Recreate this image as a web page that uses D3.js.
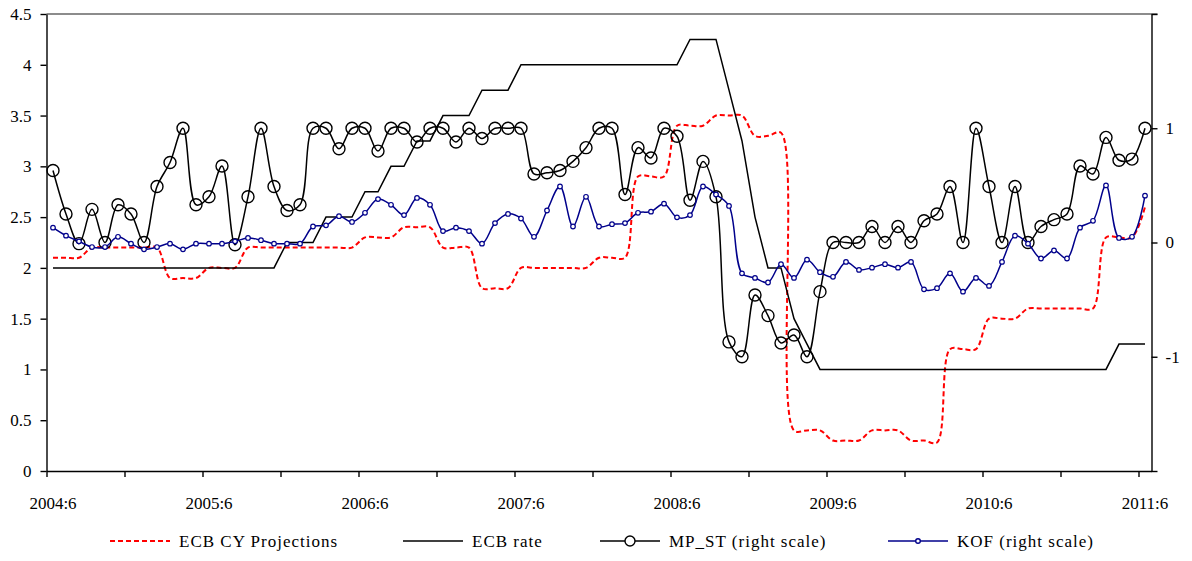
<!DOCTYPE html>
<html>
<head>
<meta charset="utf-8">
<script src="https://cdn.jsdelivr.net/npm/d3@7"></script>
<style>
  body { margin: 0; background: #fff; }
  text { font-family: "Liberation Serif", serif; font-size: 17px; fill: #000; }
</style>
</head>
<body>
<script>
// months 2004:6 .. 2011:6
let months = [];
for (let y = 2004, m = 6; y < 2011 || (y === 2011 && m <= 6); ) {
  months.push(y + ":" + m);
  m += 1;
  if (m > 12) { m = 1; y += 1; }
}

let yearLabels = ["2004:6", "2005:6", "2006:6", "2007:6", "2008:6", "2009:6", "2010:6", "2011:6"];
let leftTicks = [0, 0.5, 1, 1.5, 2, 2.5, 3, 3.5, 4, 4.5];
let rightTicks = [-2, -1, 0, 1, 2];

// left scale
let ecbRate = [
  2, 2, 2, 2, 2, 2, 2, 2, 2, 2, 2, 2, 2, 2, 2, 2, 2, 2,
  2.25, 2.25, 2.25, 2.5, 2.5, 2.5, 2.75, 2.75, 3, 3, 3.25, 3.25,
  3.5, 3.5, 3.5, 3.75, 3.75, 3.75,
  4, 4, 4, 4, 4, 4, 4, 4, 4, 4, 4, 4, 4,
  4.25, 4.25, 4.25, 3.75, 3.25, 2.5, 2, 2, 1.5, 1.25,
  1, 1, 1, 1, 1, 1, 1, 1, 1, 1, 1, 1, 1, 1, 1, 1, 1, 1, 1, 1, 1, 1, 1,
  1.25, 1.25, 1.25
];
let ecbProj = [
  2.1, 2.1, 2.1, 2.2, 2.2, 2.2, 2.2, 2.2, 2.2, 1.9, 1.9, 1.9,
  2.0, 2.0, 2.0, 2.2, 2.2, 2.2, 2.2, 2.2, 2.2, 2.2, 2.2, 2.2,
  2.3, 2.3, 2.3, 2.4, 2.4, 2.4, 2.2, 2.2, 2.2, 1.8, 1.8, 1.8,
  2.0, 2.0, 2.0, 2.0, 2.0, 2.0, 2.1, 2.1, 2.1, 2.9, 2.9, 2.9,
  3.4, 3.4, 3.4, 3.5, 3.5, 3.5, 3.3, 3.3, 3.33, 0.4, 0.4, 0.4,
  0.3, 0.3, 0.3, 0.4, 0.4, 0.4, 0.3, 0.3, 0.28, 1.2, 1.2, 1.2,
  1.5, 1.5, 1.5, 1.6, 1.6, 1.6, 1.6, 1.6, 1.6, 2.3, 2.3, 2.3, 2.6
];

// right scale
let mpST = [
  0.63, 0.25, -0.01, 0.29, 0.0, 0.33, 0.25, 0.0, 0.49, 0.70,
  1.0, 0.33, 0.40, 0.67, -0.02, 0.40, 1.0, 0.49, 0.28, 0.33,
  1.0, 1.0, 0.82, 1.0, 1.0, 0.80, 1.0, 1.0, 0.88, 1.0,
  1.0, 0.88, 1.0, 0.91, 1.0, 1.0, 1.0, 0.60, 0.61, 0.63,
  0.71, 0.83, 1.0, 1.0, 0.42, 0.83, 0.74, 1.0, 0.93, 0.37,
  0.71, 0.40, -0.87, -1.0, -0.46, -0.64, -0.88, -0.81, -1.0, -0.43,
  0.0, 0.0, 0.0, 0.14, 0.0, 0.14, 0.0, 0.19, 0.25, 0.49,
  0.0, 1.0, 0.49, 0.0, 0.49, 0.0, 0.14, 0.20, 0.25, 0.67,
  0.60, 0.92, 0.72, 0.73, 1.0
];
let kof = [
  0.13, 0.06, 0.01, -0.04, -0.04, 0.05, -0.01, -0.06, -0.04, -0.01,
  -0.06, -0.01, -0.01, -0.01, 0.01, 0.04, 0.02, -0.01, -0.01, -0.01,
  0.14, 0.15, 0.23, 0.18, 0.26, 0.38, 0.33, 0.24, 0.39, 0.33,
  0.10, 0.13, 0.10, -0.01, 0.17, 0.25, 0.21, 0.05, 0.28, 0.49,
  0.14, 0.40, 0.14, 0.16, 0.17, 0.26, 0.27, 0.34, 0.22, 0.24,
  0.49, 0.42, 0.32, -0.27, -0.31, -0.35, -0.19, -0.31, -0.15, -0.26,
  -0.30, -0.17, -0.24, -0.22, -0.19, -0.22, -0.17, -0.41, -0.40, -0.27,
  -0.43, -0.31, -0.38, -0.17, 0.06, -0.01, -0.14, -0.07, -0.14, 0.13,
  0.19, 0.50, 0.04, 0.05, 0.41
];

let svg = d3.select("body").append("svg")
  .attr("width", 1192)
  .attr("height", 561);

let x = d3.scaleLinear().domain([-0.5, months.length - 0.5]).range([46.5, 1151.5]);
let yL = d3.scaleLinear().domain([0, 4.5]).range([471, 14]);
let yR = d3.scaleLinear().domain([-2, 2]).range([471, 14]);

// top border
svg.append("line")
  .attr("x1", x.range()[0]).attr("x2", x.range()[1] + 6)
  .attr("y1", yL(4.5)).attr("y2", yL(4.5))
  .attr("stroke", "#666").attr("stroke-width", 1.4);

// axes
svg.append("g")
  .attr("transform", "translate(" + x.range()[0] + ",0)")
  .call(d3.axisLeft(yL).tickValues(leftTicks).tickSize(6).tickSizeOuter(0).tickPadding(9)
    .tickFormat(d => String(d)));
svg.append("g")
  .attr("transform", "translate(" + x.range()[1] + ",0)")
  .call(d3.axisRight(yR).tickValues(rightTicks).tickSize(6).tickSizeOuter(0).tickPadding(8)
    .tickFormat(d => (Math.abs(d) === 2 ? "" : String(d))));
svg.append("g")
  .attr("transform", "translate(0," + yL(0) + ")")
  .call(d3.axisBottom(x).tickValues(d3.range(-0.5, months.length - 1, 6)).tickSize(6).tickSizeOuter(0)
    .tickFormat(""));

svg.selectAll(".domain, .tick line").attr("stroke", "#000").attr("stroke-width", 1.4);
svg.selectAll(".tick text").style("font-family", "Liberation Serif, serif").style("font-size", "17px");

// year labels
svg.append("g").selectAll("text")
  .data(yearLabels)
  .join("text")
    .attr("x", d => x(months.indexOf(d)))
    .attr("y", 509)
    .attr("text-anchor", "middle")
    .text(d => d);

let smooth = d3.curveCatmullRom.alpha(0.5);
let idx = d3.range(months.length);

// ECB CY Projections
svg.append("path")
  .datum(idx)
  .attr("fill", "none")
  .attr("stroke", "#ff0000")
  .attr("stroke-width", 2)
  .attr("stroke-dasharray", "5,3")
  .attr("d", d3.line().x(i => x(i)).y(i => yL(ecbProj[i])).curve(smooth));

// ECB rate
svg.append("path")
  .datum(idx)
  .attr("fill", "none")
  .attr("stroke", "#000")
  .attr("stroke-width", 1.5)
  .attr("d", d3.line().x(i => x(i)).y(i => yL(ecbRate[i])));

// MP_ST
svg.append("path")
  .datum(idx)
  .attr("fill", "none")
  .attr("stroke", "#000")
  .attr("stroke-width", 1.5)
  .attr("d", d3.line().x(i => x(i)).y(i => yR(mpST[i])).curve(smooth));
svg.append("g").selectAll("circle")
  .data(idx)
  .join("circle")
    .attr("cx", i => x(i))
    .attr("cy", i => yR(mpST[i]))
    .attr("r", 6)
    .attr("fill", "none")
    .attr("stroke", "#000")
    .attr("stroke-width", 1.4);

// KOF
svg.append("path")
  .datum(idx)
  .attr("fill", "none")
  .attr("stroke", "#00008b")
  .attr("stroke-width", 1.5)
  .attr("d", d3.line().x(i => x(i)).y(i => yR(kof[i])).curve(smooth));
svg.append("g").selectAll("circle")
  .data(idx)
  .join("circle")
    .attr("cx", i => x(i))
    .attr("cy", i => yR(kof[i]))
    .attr("r", 2.3)
    .attr("fill", "#fff")
    .attr("stroke", "#00008b")
    .attr("stroke-width", 1.2);

// legend
let legend = svg.append("g").attr("transform", "translate(0,541)");
let items = [
  { name: "ECB CY Projections", x0: 110, color: "#ff0000", dash: "5,3", w: 2, marker: 0 },
  { name: "ECB rate", x0: 403, color: "#000", dash: null, w: 1.5, marker: 0 },
  { name: "MP_ST (right scale)", x0: 600, color: "#000", dash: null, w: 1.5, marker: 5 },
  { name: "KOF (right scale)", x0: 888, color: "#00008b", dash: null, w: 1.5, marker: 2.3 }
];
items.forEach(it => {
  legend.append("line")
    .attr("x1", it.x0).attr("x2", it.x0 + 60)
    .attr("y1", 0).attr("y2", 0)
    .attr("stroke", it.color)
    .attr("stroke-width", it.w)
    .attr("stroke-dasharray", it.dash);
  if (it.marker) {
    legend.append("circle")
      .attr("cx", it.x0 + 30).attr("cy", 0).attr("r", it.marker)
      .attr("fill", "#fff").attr("stroke", it.color).attr("stroke-width", 1.4);
  }
  legend.append("text")
    .attr("x", it.x0 + 69)
    .attr("y", 6)
    .style("letter-spacing", "1px")
    .text(it.name);
});
</script>
</body>
</html>
